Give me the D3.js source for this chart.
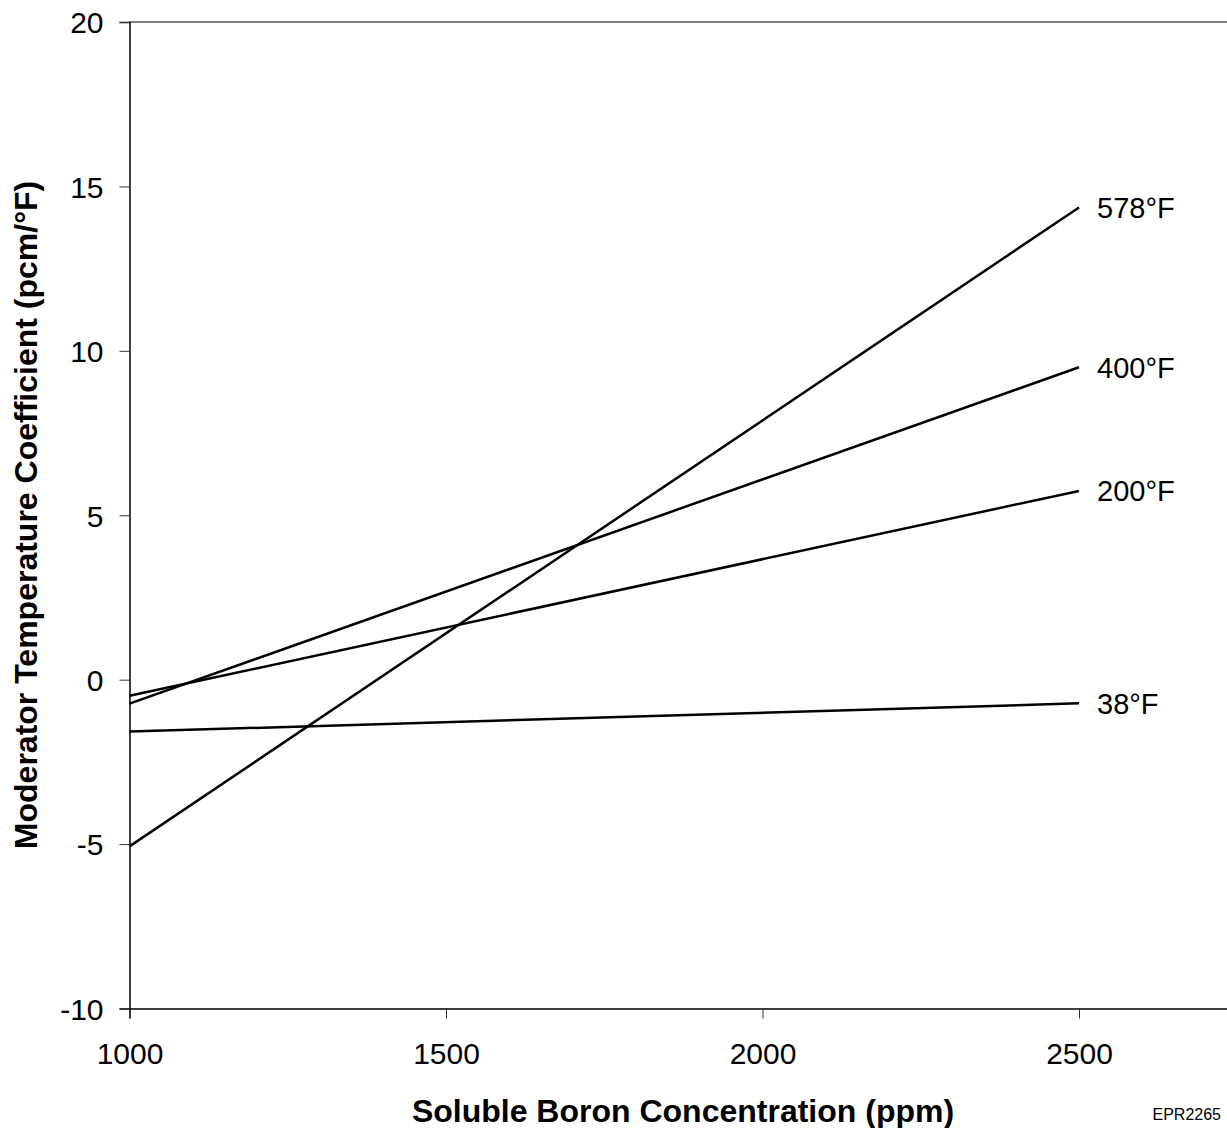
<!DOCTYPE html>
<html><head><meta charset="utf-8">
<script src="https://cdn.jsdelivr.net/npm/d3@7"></script>
<style>body{margin:0;background:#fff;} text{font-family:"Liberation Sans",Arial,sans-serif;}</style>
</head><body><svg id="c" width="1227" height="1128"></svg>
<script>
const boron = [1000, 2500];
const series = ["578°F", "400°F", "200°F", "38°F"];
const mtc578 = [-5.07, 14.36];
const mtc400 = [-0.73, 9.5];
const mtc200 = [-0.49, 5.74];
const mtc38 = [-1.58, -0.72];
const xTicks = [1000, 1500, 2000, 2500];
const yTicks = [-10, -5, 0, 5, 10, 15, 20];

const values = [mtc578, mtc400, mtc200, mtc38];
const svg = d3.select("#c");
const x0 = 129.5, pxPerPpm = (1079 - 129.5) / 1500;
const x = d3.scaleLinear().domain([1000, 3000]).range([x0, x0 + 2000 * pxPerPpm]);
const y = d3.scaleLinear().domain([-10, 20]).range([1008.5, 22]);
const fmt = d => String(d);

// top border
svg.append("line").attr("x1", x0).attr("x2", 1227).attr("y1", y(20)).attr("y2", y(20))
  .attr("stroke", "#555").attr("stroke-width", 1.5);

const xAxis = svg.append("g").attr("transform", `translate(0,${y(-10)})`)
  .call(d3.axisBottom(x).tickValues(xTicks).tickSize(10).tickPadding(24).tickFormat(fmt));
const yAxis = svg.append("g").attr("transform", `translate(${x0},0)`)
  .call(d3.axisLeft(y).tickValues(yTicks).tickSize(10).tickPadding(16).tickFormat(fmt));
[xAxis, yAxis].forEach(g => {
  g.select(".domain").attr("stroke", "#000").attr("stroke-width", 1.5);
  g.selectAll(".tick line").attr("stroke", "#333").attr("stroke-width", 1);
  g.selectAll(".tick text").attr("font-size", 30).attr("fill", "#000")
    .attr("font-family", '"Liberation Sans", Arial, sans-serif');
});
yAxis.selectAll(".tick text").attr("dy", "0.36em");

const line = d3.line().x((d, i) => x(boron[i])).y(d => y(d));
values.forEach((v, k) => {
  svg.append("path").attr("d", line(v)).attr("fill", "none")
    .attr("stroke", "#000").attr("stroke-width", 2.5);
  svg.append("text").attr("x", x(boron[1]) + 18).attr("y", y(v[1])).attr("dy", "0.36em")
    .attr("font-size", 29).text(series[k]);
});

svg.append("text").attr("x", 683).attr("y", 1122).attr("text-anchor", "middle")
  .attr("font-size", 32).attr("font-weight", "bold").text("Soluble Boron Concentration (ppm)");
svg.append("text").attr("transform", "translate(37,515) rotate(-90)").attr("text-anchor", "middle")
  .attr("font-size", 32).attr("font-weight", "bold").text("Moderator Temperature Coefficient (pcm/°F)");
svg.append("text").attr("x", 1221).attr("y", 1120).attr("text-anchor", "end")
  .attr("font-size", 16).text("EPR2265");
</script></body></html>
